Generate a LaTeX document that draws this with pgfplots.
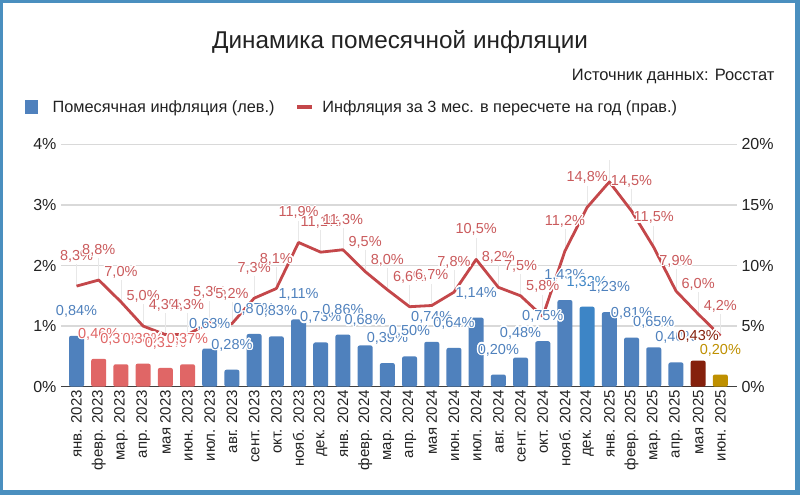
\documentclass[border=0pt]{standalone}
\usepackage{fontspec}
\setmainfont{Liberation Sans}
\usepackage{pgfplots}
\usepackage{pgfplotstable}
\pgfplotsset{compat=1.18}
\usepackage{contour}
\contourlength{1.3pt}
\contournumber{16}

\definecolor{frameblue}{HTML}{4A8FBF}
\definecolor{barblue}{HTML}{4F81BD}
\definecolor{barblue2}{HTML}{3D85C6}
\definecolor{barred}{HTML}{E06666}
\definecolor{bardark}{HTML}{85200C}
\definecolor{bargold}{HTML}{BF9000}
\definecolor{linered}{HTML}{C4474A}
\definecolor{gridgray}{HTML}{D9D9D9}
\definecolor{txt}{HTML}{222222}
% label colours by group
\colorlet{lab0}{barblue}
\colorlet{lab1}{barred}
\colorlet{lab2}{barblue2}
\colorlet{lab3}{bardark}
\colorlet{lab4}{bargold}

% i = month index, m = monthly %, r = 3-month annualised %, c = colour group
\pgfplotstableread{
i  m     r     c
0  0.84  8.3   0
1  0.46  8.8   1
2  0.37  7.0   1
3  0.38  5.0   1
4  0.31  4.3   1
5  0.37  4.3   1
6  0.63  5.3   0
7  0.28  5.2   0
8  0.87  7.3   0
9  0.83  8.1   0
10 1.11  11.9  0
11 0.73  11.1  0
12 0.86  11.3  0
13 0.68  9.5   0
14 0.39  8.0   0
15 0.50  6.6   0
16 0.74  6.7   0
17 0.64  7.8   0
18 1.14  10.5  0
19 0.20  8.2   0
20 0.48  7.5   0
21 0.75  5.8   0
22 1.43  11.2  0
23 1.32  14.8  2
24 1.23  16.9  0
25 0.81  14.5  0
26 0.65  11.5  0
27 0.40  7.9   0
28 0.43  6.0   3
29 0.20  4.2   4
}\data

\pgfplotsset{
  base/.style={
    scale only axis, width=676pt, height=242.4pt,
    at={(61pt,108.3pt)}, anchor=south west,
    xmin=-0.70, xmax=29.75,
    major tick length=0pt,
    /pgf/number format/assume math mode=true,
    /pgf/number format/use comma,
  },
  vals/.style={
    draw=none, mark=none, nodes near coords,
    every node near coord/.append style={anchor=center, inner sep=0pt,
      font=\fontsize{14.5}{16}\selectfont},
  },
}
% bars of one colour for the months #1..#2
\newcommand\barsin[3]{%
  \addplot[ybar, forget plot, bar width=15pt, bar shift=0pt, draw=none,
    rounded corners=2pt, fill=#3, restrict x to domain=#1:#2]
    table[x=i, y=m]{\data};}

\begin{document}
\begin{tikzpicture}
\fill[frameblue] (0,0) rectangle (800pt,495pt);
\fill[white] (3pt,5pt) rectangle (795pt,492pt);

% left axis: bars
\begin{axis}[base,
  ymin=0, ymax=4,
  ytick={0,1,2,3,4},
  yticklabels={0\%,1\%,2\%,3\%,4\%},
  ymajorgrids, grid style={gridgray, line width=1.2pt},
  axis lines*=left,
  y axis line style={draw=none},
  x axis line style={-, draw=black!75, line width=1.4pt},
  ytick pos=left,
  yticklabel style={font=\fontsize{16}{18}\selectfont, text=txt, xshift=-1pt},
  xtick={0,...,29},
  xticklabels={янв. 2023,февр. 2023,мар. 2023,апр. 2023,мая 2023,июн. 2023,
    июл. 2023,авг. 2023,сент. 2023,окт. 2023,нояб. 2023,дек. 2023,
    янв. 2024,февр. 2024,мар. 2024,апр. 2024,мая 2024,июн. 2024,
    июл. 2024,авг. 2024,сент. 2024,окт. 2024,нояб. 2024,дек. 2024,
    янв. 2025,февр. 2025,мар. 2025,апр. 2025,мая 2025,июн. 2025},
  xticklabel style={rotate=90, anchor=east, font=\fontsize{15}{17}\selectfont,
    text=txt},
  legend columns=2,
  legend style={at={(-0.0577,1.154)}, anchor=west, draw=none, fill=none,
    font=\fontsize{16.3}{18}\selectfont, text=txt,
    /tikz/every odd column/.append style={column sep=6pt},
    /tikz/every even column/.append style={column sep=19pt}},
  legend cell align=left,
]
\addlegendimage{legend image code/.code={\fill[barblue] (0pt,-6.5pt) rectangle (12pt,6.5pt);\path (19pt,0pt);}}
\addlegendentry{Помесячная инфляция (лев.)}
\addlegendimage{legend image code/.code={\draw[linered, line width=4pt] (0pt,0pt) -- (15pt,0pt);}}
\addlegendentry{Инфляция за 3 мес. в пересчете на год (прав.)}

\barsin{0}{0}{barblue}
\barsin{1}{5}{barred}
\barsin{6}{22}{barblue}
\barsin{23}{23}{barblue2}
\barsin{24}{27}{barblue}
\barsin{28}{28}{bardark}
\barsin{29}{29}{bargold}
\end{axis}

% right axis: 3-month annualised line
\begin{axis}[base,
  ymin=0, ymax=20,
  axis x line=none,
  axis y line*=right,
  y axis line style={draw=none},
  ytick={0,5,10,15,20},
  yticklabels={0\%,5\%,10\%,15\%,20\%},
  yticklabel style={font=\fontsize{16}{18}\selectfont, text=txt, xshift=1pt},
]
% leader lines
\addplot[draw=none, mark=none,
  error bars/.cd, y dir=plus, y fixed=1.8,
  error bar style={black!9, line width=0.8pt}, error mark=none]
  table[x=i, y=r]{\data};
\addplot[linered, line width=2.8pt, line join=round, mark=none] table[x=i, y=r]{\data};
\addplot[vals,
  y filter/.code={\ifnum\coordindex=24 \def\pgfmathresult{inf}\fi},
  every node near coord/.append style={yshift=29pt, text=linered!90!white},
  nodes near coords={\contour{white}{\pgfmathprintnumber[fixed, fixed zerofill, precision=1]{\pgfplotspointmeta}\%}},
] table[x=i, y=r]{\data};
\end{axis}

% left scale again: bar value labels on top of everything
\begin{axis}[base, ymin=0, ymax=4, hide axis]
\addplot[vals,
  visualization depends on={\thisrow{c}\as\cidx},
  every node near coord/.append code={%
    \pgfmathtruncatemacro\ci{\cidx}\pgfkeysalso{yshift=24pt, text=lab\ci}},
  nodes near coords={\contour{white}{\pgfmathprintnumber[fixed, fixed zerofill, precision=2]{\pgfplotspointmeta}\%}},
] table[x=i, y=m]{\data};
\end{axis}

\node[font=\fontsize{24.3}{28}\selectfont, text=txt] at (400pt,453pt) {Динамика помесячной инфляции};
\node[font=\fontsize{16.5}{19}\selectfont, text=txt, anchor=east] at (778pt,419pt) {Источник данных: Росстат};
\end{tikzpicture}
\end{document}
